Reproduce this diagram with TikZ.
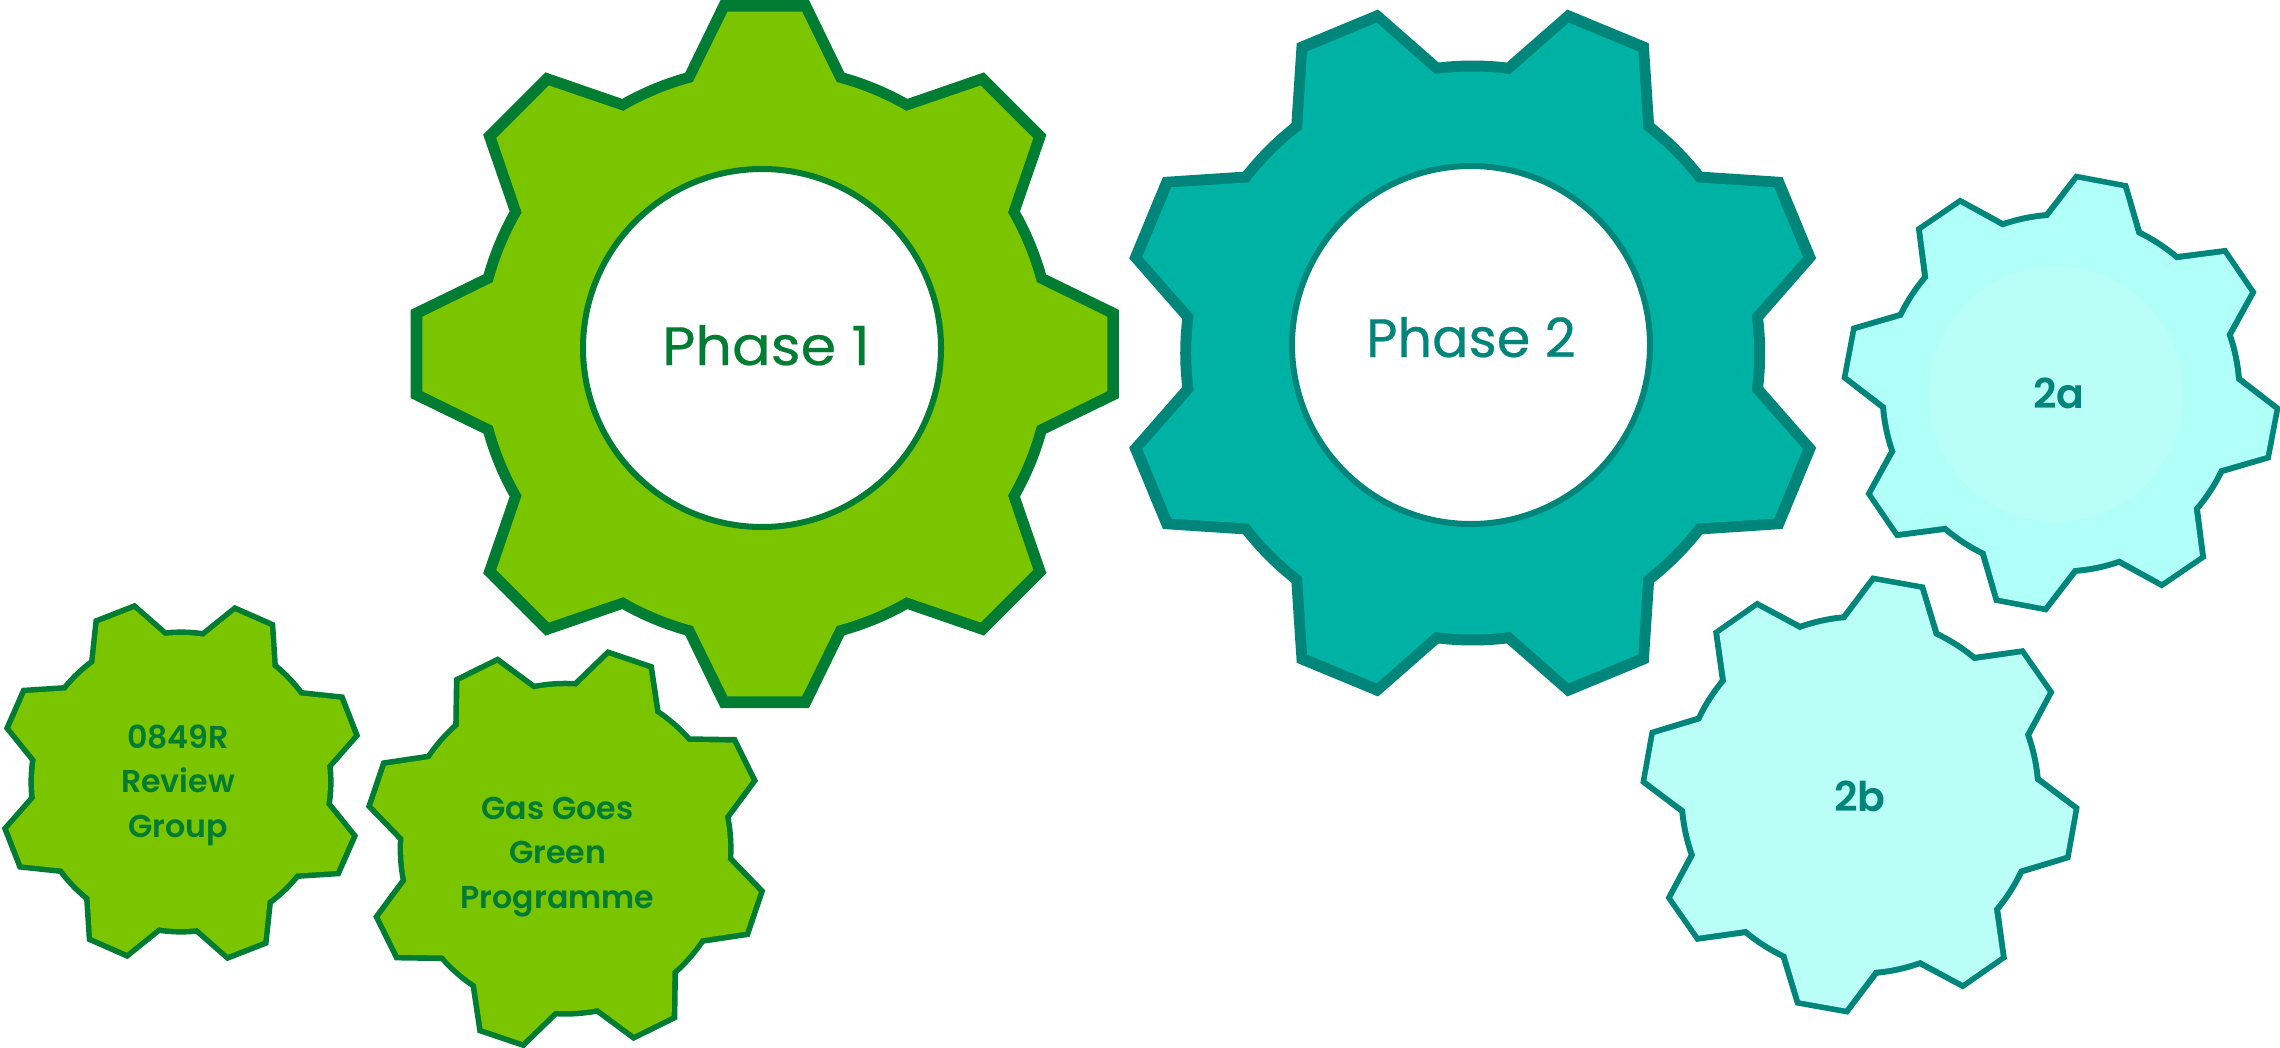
\documentclass[tikz,border=0pt]{standalone}
\usepackage{fontspec}
\setmainfont{Poppins}
\newfontfamily\popwide[FakeStretch=1.06,FakeBold=0.4]{Poppins}
\newfontfamily\popplain[FakeBold=0.4]{Poppins}
\newfontfamily\popsemi{Poppins SemiBold}
\definecolor{leaf}{HTML}{7BC400}
\definecolor{leafdark}{HTML}{007D32}
\definecolor{teal}{HTML}{00B2A3}
\definecolor{tealdark}{HTML}{00857A}
\definecolor{mint}{HTML}{BAFFF7}
\definecolor{mintdeep}{HTML}{B0FFF8}
\tikzset{
  holecircle/.style={circle,draw=#1,fill=white,line width=3pt,inner sep=0pt,minimum size=179pt},
  biglabel/.style={text=#1,anchor=base,inner sep=0pt},
  midlabel/.style={text=#1,font=\popsemi\fontsize{20.5}{20.5}\selectfont,anchor=base,inner sep=0pt},
  smalllabel/.style={text=leafdark,font=\popsemi\fontsize{15.8}{22.25}\selectfont,align=center,inner sep=0pt},
}
% outer radius, root radius, tip half angle, root half angle
\newcommand\gearshape[4]{
  (-#4:#2) \foreach \k in {0,...,7} {
    -- ({45*\k-#3}:#1) -- ({45*\k+#3}:#1) -- ({45*\k+#4}:#2)
    arc[start angle={45*\k+#4}, end angle={45*\k+45-#4}, radius=#2]
  } -- cycle
}
% cx, cy, rotation, rim colour, face colour, outer params, inner params
\newcommand\gear[7]{
  \begin{scope}[shift={(#1,-#2)},rotate=#3]
    \fill[#4] \gearshape#6;
    \fill[#5] \gearshape#7;
  \end{scope}
}
\begin{document}
\begin{tikzpicture}[x=0.5pt,y=0.5pt]
\useasboundingbox (0,0) rectangle (2280,-1048);
\gear{764.8}{354}{0}{leafdark}{leaf}{{356.9}{292.3}{7.1}{15.8}}{{344.5}{281.3}{6.2}{14.8}}
\gear{1472.7}{353}{22.5}{tealdark}{teal}{{356.3}{292.5}{7.1}{15.8}}{{344}{281.5}{6.3}{14.8}}
\gear{181}{782}{21.3}{leafdark}{leaf}{{185}{152.6}{6.9}{15.7}}{{179}{147}{6.1}{14.8}}
\gear{565.6}{848.7}{26.3}{leafdark}{leaf}{{204}{168}{6.9}{15.7}}{{198}{162.5}{6.1}{14.8}}
\gear{2061}{393}{34.3}{tealdark}{mintdeep}{{220}{181.5}{7}{15.7}}{{214}{175.5}{6.2}{14.8}}
\gear{1860}{795}{34.9}{tealdark}{mint}{{220}{181.5}{7}{15.7}}{{214}{175.5}{6.2}{14.8}}
\node[holecircle=leafdark] (hole1) at (762,-348) {};
\node[holecircle=tealdark] (hole2) at (1471,-345) {};
\node[circle,fill=mint,inner sep=0pt,minimum size=127.5pt] (face2a) at (2056,-394) {};
\node[biglabel=leafdark,font=\popwide\fontsize{27}{27}\selectfont] (phase1) at (766,-365) {Phase 1};
\node[biglabel=tealdark,font=\popplain\fontsize{27}{27}\selectfont] (phase2) at (1471,-357) {Phase 2};
\node[midlabel=tealdark] (label2a) at (2059,-408) {2a};
\node[midlabel=tealdark] (label2b) at (1860,-811) {2b};
\node[smalllabel] (review) at (178,-785) {0849R\\Review\\Group};
\node[smalllabel] (ggg) at (557.5,-857) {Gas Goes\\Green\\Programme};
\end{tikzpicture}
\end{document}
